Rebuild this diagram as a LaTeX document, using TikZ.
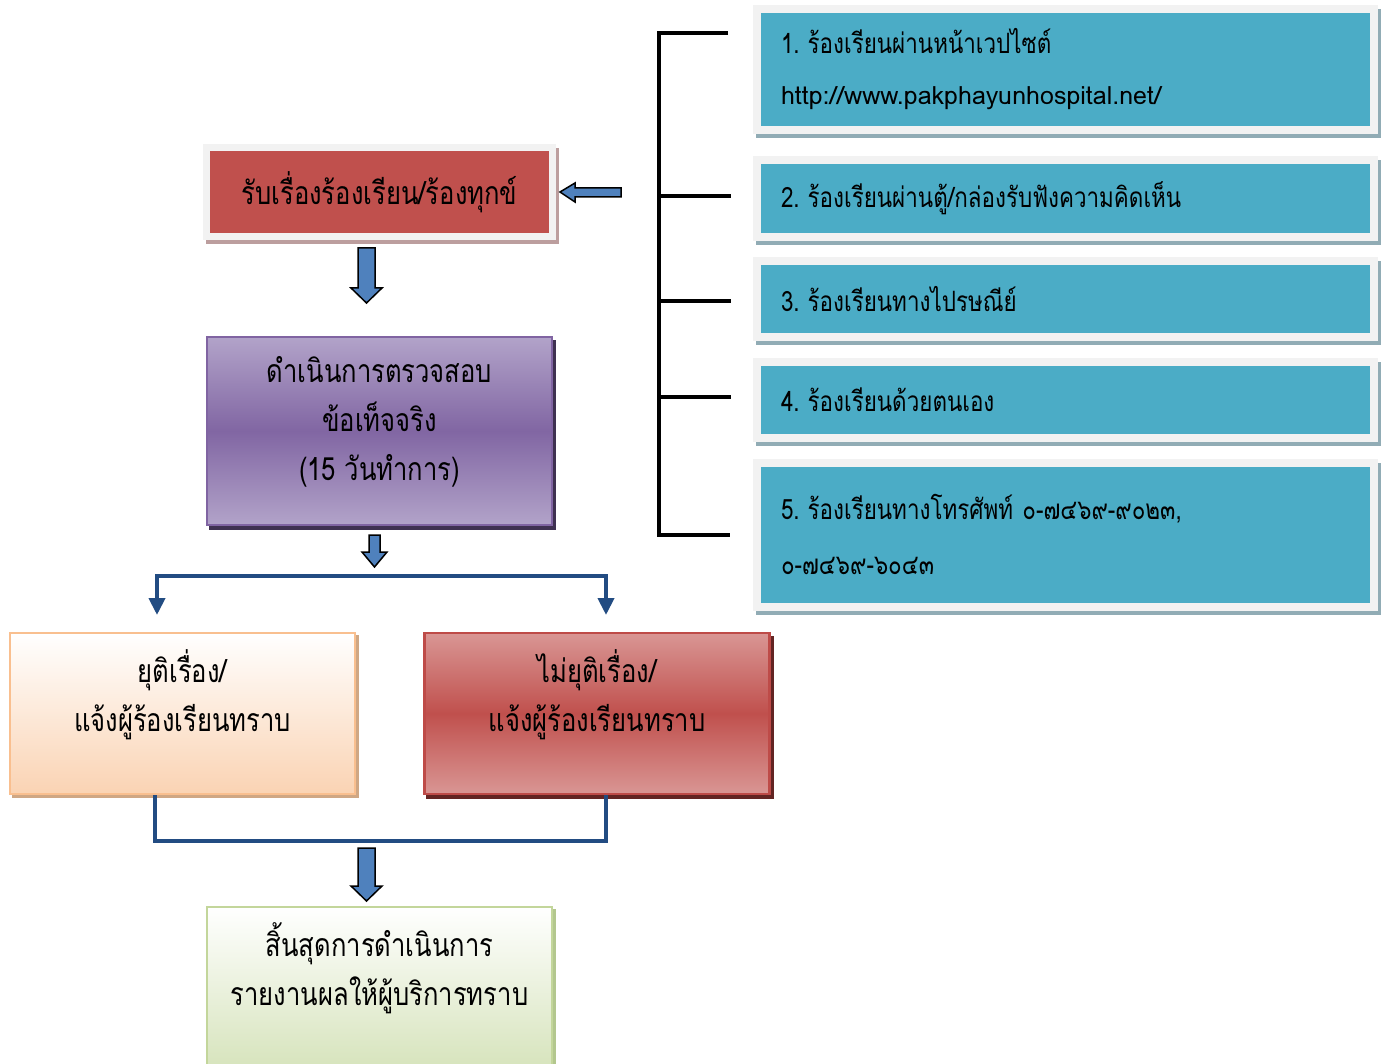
\documentclass[tikz,border=0pt]{standalone}
\usepackage{fontspec}
\setmainfont[Script=Thai, FakeStretch=0.8]{Loma}
\newfontfamily\plainloma{Loma}
\usetikzlibrary{arrows.meta,calc,backgrounds}
\newcommand\numgap{\hspace{-6pt}}
\definecolor{recvred}{HTML}{C0504D}
\definecolor{framegray}{HTML}{F2F2F2}
\definecolor{recvshadow}{HTML}{BC9E9E}
\definecolor{cyanbox}{HTML}{4BACC6}
\definecolor{cyanshadow}{HTML}{91ACB5}
\definecolor{arrowblue}{HTML}{4F81BD}
\definecolor{connblue}{HTML}{224C82}
\definecolor{purpleedge}{HTML}{8064A2}
\definecolor{purplelight}{HTML}{B2A3C9}
\definecolor{purplemid}{HTML}{8166A3}
\definecolor{purpleshadow}{HTML}{3F3151}
\definecolor{peachedge}{HTML}{F9BF8F}
\definecolor{peachbottom}{HTML}{FAD3B3}
\definecolor{peachshadow}{HTML}{CFA784}
\definecolor{redlight}{HTML}{D99694}
\definecolor{rededge}{HTML}{BE4B48}
\definecolor{redshadow}{HTML}{632523}
\definecolor{greenedge}{HTML}{C3D69B}
\definecolor{greenbottom}{HTML}{D7E4BD}
\definecolor{greenshadow}{HTML}{B3C78E}
\begin{document}
\begin{tikzpicture}[x=1pt,y=-1pt,
  txt/.style={font=\fontsize{32}{49}\selectfont, text=black, align=center, inner sep=0pt},
  framebox/.style={draw=framegray, inner sep=0pt, font=\fontsize{32}{51}\selectfont, text=black},
  sidebox/.style={framebox, fill=cyanbox, line width=8pt, minimum width=617pt, text width=569pt, align=left, inner xsep=24pt, font=\fontsize{28}{51}\selectfont},
  flowbox/.style={line width=2.5pt, minimum width=345pt, inner sep=0pt},
  blockarrow/.style={fill=arrowblue, draw=black, line width=1.5pt, line join=miter},
  conn/.style={draw=connblue, line width=4pt, line join=miter},
  bracket/.style={draw=black, line width=4pt, line join=miter}]
\useasboundingbox (0,0) rectangle (1386,1064);
\clip (0,0) rectangle (1386,1064);

% ---- left column boxes
\node[framebox, fill=recvred, line width=7pt, minimum width=346pt, minimum height=89pt] (recv) at (379.5,192) {รับเรื่องร้องเรียน/ร้องทุกข์};

\node[flowbox, draw=purpleedge, top color=purplelight, bottom color=purplelight, middle color=purplemid, minimum height=188pt] (check) at (379.5,431) {};
\node[txt] (checktxt) at ($(check.center)+(0,-9)$) {ดำเนินการตรวจสอบ\\ข้อเท็จจริง\\(15 วันทำการ)};

\node[flowbox, draw=peachedge, top color=white, bottom color=peachbottom, minimum height=161pt] (stop) at (182.5,713.5) {};
\node[txt] (stoptxt) at ($(stop.center)+(0,-18.5)$) {ยุติเรื่อง/\\แจ้งผู้ร้องเรียนทราบ};

\node[flowbox, draw=rededge, top color=redlight, bottom color=redlight, middle color=recvred, minimum height=161pt] (nostop) at (597,713.5) {};
\node[txt] (nostoptxt) at ($(nostop.center)+(0,-18.5)$) {ไม่ยุติเรื่อง/\\แจ้งผู้ร้องเรียนทราบ};

\node[flowbox, draw=greenedge, top color=white, bottom color=greenbottom, minimum height=159pt] (finish) at (379.5,986.5) {};
\node[txt] (finishtxt) at (379.5,968.5) {สิ้นสุดการดำเนินการ\\รายงานผลให้ผู้บริการทราบ};

% ---- right column boxes
\node[sidebox, minimum height=121pt] (r1) at (1065.5,69.5) {1.\numgap{} ร้องเรียนผ่านหน้าเวปไซต์\\{\plainloma\fontsize{25}{51}\selectfont http://www.pakphayunhospital.net/}};
\node[sidebox, minimum height=77pt] (r2) at (1065.5,198.5) {2.\numgap{} ร้องเรียนผ่านตู้/กล่องรับฟังความคิดเห็น};
\node[sidebox, minimum height=76pt] (r3) at (1065.5,299) {3.\numgap{} ร้องเรียนทางไปรษณีย์};
\node[sidebox, minimum height=76pt] (r4) at (1065.5,400) {4.\numgap{} ร้องเรียนด้วยตนเอง};
\node[sidebox, minimum height=144pt] (r5) at (1065.5,535) {5.\numgap{} ร้องเรียนทางโทรศัพท์ ๐-๗๔๖๙-๙๐๒๓,\\[4pt]๐-๗๔๖๙-๖๐๔๓};

% ---- shadows
\begin{scope}[on background layer]
  \fill[recvshadow] ($(recv.north west)+(3,4)$) rectangle ($(recv.south east)+(3,4)$);
  \fill[purpleshadow] ($(check.north west)+(3,4)$) rectangle ($(check.south east)+(3,4)$);
  \fill[peachshadow] ($(stop.north west)+(3,3)$) rectangle ($(stop.south east)+(3,3)$);
  \fill[redshadow] ($(nostop.north west)+(3,4)$) rectangle ($(nostop.south east)+(3,4)$);
  \fill[greenshadow] ($(finish.north west)+(3,3)$) rectangle ($(finish.south east)+(3,3)$);
  \foreach \b in {r1,r2,r3,r4,r5}
    \fill[cyanshadow] ($(\b.north west)+(3,4)$) rectangle ($(\b.south east)+(3,4)$);
\end{scope}

% ---- block arrows
\draw[blockarrow] (621,188) -- (575,188) -- (575,183) -- (560,192) -- (575,202) -- (575,197) -- (621,197) -- cycle;
\draw[blockarrow] (358,248) -- (375,248) -- (375,288) -- (382,288) -- (366.5,303) -- (351,288) -- (358,288) -- cycle;
\draw[blockarrow] (369,535) -- (380,535) -- (380,552) -- (387,552) -- (374.5,567) -- (362,552) -- (369,552) -- cycle;
\draw[blockarrow] (358,848) -- (375,848) -- (375,886) -- (382,886) -- (366.5,901) -- (351,886) -- (358,886) -- cycle;

% ---- blue connectors
\coordinate (splitL) at (157,576);
\coordinate (splitR) at (606,576);
\coordinate (tipL) at (157,615);
\coordinate (tipR) at (606,615);
\draw[conn, {Triangle[width=16pt,length=17pt]}-{Triangle[width=16pt,length=17pt]}] (tipL) -- (splitL) -- (splitR) -- (tipR);

\coordinate (joinL) at (155,841);
\coordinate (joinR) at (606,841);
\draw[conn] (joinL |- stop.south) -- (joinL) -- (joinR) -- (joinR |- nostop.south);

% ---- bracket
\coordinate (brTop) at (659,33);
\coordinate (brBot) at (659,535);
\draw[bracket] (728,33) -- (brTop) -- (brBot) -- (730,535);
\draw[bracket] (659,196) -- (731,196);
\draw[bracket] (659,301) -- (731,301);
\draw[bracket] (659,397) -- (731,397);
\end{tikzpicture}
\end{document}
